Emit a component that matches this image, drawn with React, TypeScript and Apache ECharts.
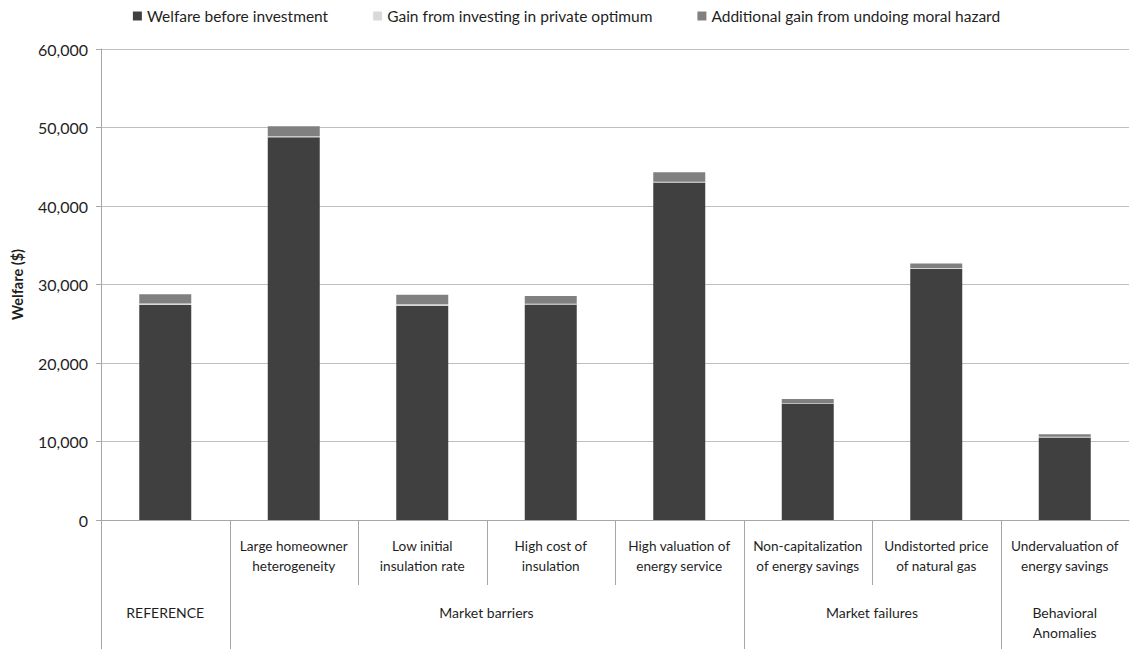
import React, { useEffect, useRef } from "react";
import * as echarts from "echarts";

const categories = [
  "",
  "Large homeowner\nheterogeneity",
  "Low initial\ninsulation rate",
  "High cost of\ninsulation",
  "High valuation of\nenergy service",
  "Non-capitalization\nof energy savings",
  "Undistorted price\nof natural gas",
  "Undervaluation of\nenergy savings",
];

const seriesNames = [
  "Welfare before investment",
  "Gain from investing in private optimum",
  "Additional gain from undoing moral hazard",
];

const welfareBefore = [27400, 48750, 27300, 27450, 43000, 14850, 32000, 10500];
const gainPrivate = [170, 150, 200, 100, 100, 60, 100, 120];
const gainMoral = [1180, 1270, 1180, 1000, 1200, 500, 580, 300];

const groupNames = ["REFERENCE", "Market barriers", "Market failures", "Behavioral\nAnomalies"];
const groupStarts = [0, 1, 5, 7];
const groupSpans = [1, 4, 2, 1];

const colors = ["#404040", "#d9d9d9", "#808080"];
const FONT = "Lato, 'Liberation Sans', sans-serif";
const TEXT = "#1f1f1f";
const LINE = "#a6a6a6";

export default function App() {
  const ref = useRef<HTMLDivElement>(null);
  useEffect(() => {
    if (!ref.current) return;
    const chart = echarts.init(ref.current, undefined, { renderer: "svg" });
    const data = [welfareBefore, gainPrivate, gainMoral];
    chart.setOption({
      animation: false,
      textStyle: { fontFamily: FONT },
      legend: {
        top: 3,
        left: "center",
        itemWidth: 9,
        itemHeight: 9,
        itemGap: 45,
        icon: "rect",
        textStyle: { fontSize: 15.5, color: TEXT, fontFamily: FONT },
        data: seriesNames,
      },
      grid: { left: 101, right: 4, top: 49, bottom: 129, containLabel: false },
      xAxis: {
        type: "category",
        data: categories,
        axisLine: { show: true, lineStyle: { color: LINE, width: 1 } },
        axisTick: { show: false },
        axisLabel: {
          interval: 0,
          margin: 16,
          fontSize: 13.6,
          lineHeight: 20,
          color: TEXT,
          fontFamily: FONT,
        },
      },
      yAxis: {
        type: "value",
        min: 0,
        max: 60000,
        interval: 10000,
        name: "Welfare ($)",
        nameLocation: "middle",
        nameGap: 76,
        nameTextStyle: { fontSize: 14.5, fontWeight: "bold", color: TEXT, fontFamily: FONT },
        axisLine: { show: true, lineStyle: { color: LINE } },
        axisTick: { show: true, length: 5, lineStyle: { color: LINE } },
        axisLabel: {
          margin: 13,
          fontSize: 16,
          color: TEXT,
          fontFamily: FONT,
          formatter: (v: number) => v.toLocaleString("en-US"),
        },
        splitLine: { show: true, lineStyle: { color: "#bfbfbf", width: 1 } },
      },
      series: seriesNames.map((name, i) => ({
        name,
        type: "bar",
        stack: "total",
        barWidth: 52,
        itemStyle: { color: colors[i] },
        data: data[i],
      })),
    });

    const x0 = chart.convertToPixel({ xAxisIndex: 0 }, 0) as number;
    const x1 = chart.convertToPixel({ xAxisIndex: 0 }, 1) as number;
    const band = x1 - x0;
    const yBase = chart.convertToPixel({ yAxisIndex: 0 }, 0) as number;
    const boundary = (i: number) => Math.round(x0 - band / 2 + i * band) + 0.5;
    const bottom = 649;
    const graphics: any[] = [];
    for (let i = 0; i < categories.length; i++) {
      const full = groupStarts.includes(i);
      graphics.push({
        type: "line",
        shape: { x1: boundary(i), y1: yBase, x2: boundary(i), y2: full ? bottom : yBase + 65 },
        style: { stroke: LINE, lineWidth: 1 },
      });
    }
    groupNames.forEach((g, gi) => {
      const cx = x0 - band / 2 + (groupStarts[gi] + groupSpans[gi] / 2) * band;
      graphics.push({
        type: "text",
        style: {
          text: g,
          x: cx,
          y: yBase + 82,
          align: "center",
          verticalAlign: "top",
          lineHeight: 20,
          fontSize: 14,
          fontFamily: FONT,
          fill: TEXT,
        },
      });
    });
    chart.setOption({ graphic: graphics });

    return () => chart.dispose();
  }, []);
  return (
    <div
      ref={ref}
      style={{ position: "fixed", left: 0, top: 0, width: 1133, height: 649, background: "#fff" }}
    />
  );
}
